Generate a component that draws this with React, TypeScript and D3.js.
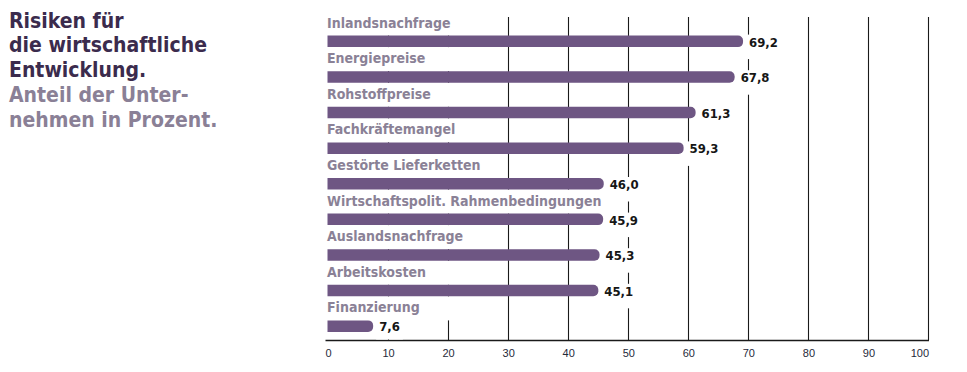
import React, { useRef, useEffect } from 'react';
import { select, scaleLinear, scaleBand } from 'd3';

const categories = [
  "Inlandsnachfrage",
  "Energiepreise",
  "Rohstoffpreise",
  "Fachkräftemangel",
  "Gestörte Lieferketten",
  "Wirtschaftspolit. Rahmenbedingungen",
  "Auslandsnachfrage",
  "Arbeitskosten",
  "Finanzierung",
];
const values = [69.2, 67.8, 61.3, 59.3, 46.0, 45.9, 45.3, 45.1, 7.6];
const tickValues = [0, 10, 20, 30, 40, 50, 60, 70, 80, 90, 100];
const titleLines = ["Risiken für", "die wirtschaftliche", "Entwicklung."];
const subtitleLines = ["Anteil der Unter-", "nehmen in Prozent."];

const condensed = "'DejaVu Sans Condensed', 'DejaVu Sans', sans-serif";

function App() {
  const svgRef = useRef<SVGSVGElement>(null);

  useEffect(() => {
    document.body.style.margin = "0";
    const svg = select(svgRef.current);
    svg.selectAll("*").remove();

    const width = 967, height = 372;
    const axisY = 340.5;
    const gridTop = 17;
    const barH = 11.5;

    const xScale = scaleLinear().domain([0, 100]).range([327.5, 928]);
    const yScale = scaleBand<string>().domain(categories).range([11.5, 331.9]).padding(0);
    const step = yScale.step();

    // title
    const title = svg.append("g").attr("font-family", condensed).attr("font-weight", "bold").attr("font-size", 21);
    titleLines.forEach((t, i) => {
      title.append("text").attr("x", 9).attr("y", 27.5 + i * 24.8).attr("fill", "#3b2b4d").text(t);
    });
    subtitleLines.forEach((t, i) => {
      title.append("text").attr("x", 9).attr("y", 27.5 + (i + 3) * 24.8).attr("fill", "#8a8096").text(t);
    });

    // gridlines (no line at 0)
    svg.append("g")
      .selectAll("line")
      .data(tickValues.filter(d => d > 0))
      .join("line")
      .attr("x1", d => Math.round(xScale(d)) + 0.5)
      .attr("x2", d => Math.round(xScale(d)) + 0.5)
      .attr("y1", gridTop)
      .attr("y2", axisY)
      .attr("stroke", "#1a1a1a")
      .attr("stroke-width", 1.1);

    // axis line
    svg.append("line")
      .attr("x1", xScale(0) - 2).attr("x2", Math.round(xScale(100)) + 1)
      .attr("y1", axisY).attr("y2", axisY)
      .attr("stroke", "#1a1a1a").attr("stroke-width", 1.5);

    // tick labels
    svg.append("g")
      .selectAll("text")
      .data(tickValues)
      .join("text")
      .attr("x", d => xScale(d) + 1)
      .attr("y", 357)
      .attr("text-anchor", d => d === 100 ? "end" : "middle")
      .attr("font-family", "'Liberation Sans', Arial, sans-serif")
      .attr("font-size", 11)
      .attr("fill", "#1f2a3a")
      .text(d => d);

    // category labels with white backdrop (hides gridlines)
    const labels = svg.append("g");
    categories.forEach((c) => {
      const top = yScale(c)!;
      const barTop = top + step - barH;
      const bg = labels.append("rect").attr("fill", "#fff");
      const txt = labels.append("text")
        .attr("x", xScale(0) - 0.5)
        .attr("y", barTop - 8)
        .attr("font-family", condensed)
        .attr("font-weight", "bold")
        .attr("font-size", 14)
        .attr("fill", "#8a8196")
        .text(c);
      const w = (txt.node() as SVGTextElement).getComputedTextLength();
      bg.attr("x", xScale(0) - 1).attr("y", top).attr("width", Math.max(w + 6, 136)).attr("height", barTop - top);
    });

    // bars
    const r = 5;
    svg.append("g")
      .selectAll("path")
      .data(categories)
      .join("path")
      .attr("fill", "#6e5683")
      .attr("d", (c, i) => {
        const x0 = xScale(0);
        const x1 = xScale(values[i]);
        const y0 = yScale(c)! + step - barH;
        const y1 = y0 + barH;
        return `M${x0},${y0}H${x1 - r}A${r},${r} 0 0 1 ${x1},${y0 + r}V${y1 - r}A${r},${r} 0 0 1 ${x1 - r},${y1}H${x0}Z`;
      });

    // value labels
    const vals = svg.append("g");
    categories.forEach((c, i) => {
      const barTop = yScale(c)! + step - barH;
      const xv = xScale(values[i]) + 6;
      const bg = vals.append("rect").attr("fill", "#fff");
      const txt = vals.append("text")
        .attr("x", xv)
        .attr("y", barTop + barH - 0.5)
        .attr("font-family", condensed)
        .attr("font-weight", "bold")
        .attr("font-size", 13)
        .attr("fill", "#161616")
        .text(values[i].toFixed(1).replace(".", ","));
      const w = (txt.node() as SVGTextElement).getComputedTextLength();
      bg.attr("x", xv - 3).attr("y", barTop - 1).attr("width", w + 6)
        .attr("height", Math.min(barH + 13, axisY - 1 - (barTop - 1)));
    });

    svg.attr("width", width).attr("height", height);
  }, []);

  return (
    <svg ref={svgRef} width={967} height={372} style={{ display: "block", background: "#fff" }} />
  );
}

export default App;
